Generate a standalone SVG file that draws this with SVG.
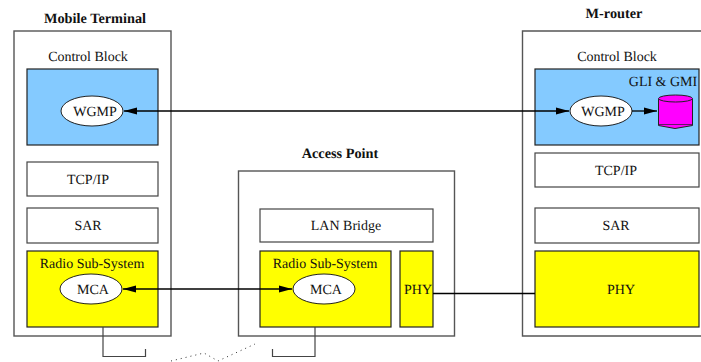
<svg xmlns="http://www.w3.org/2000/svg" width="701" height="362" viewBox="0 0 701 362">
<style>
text{font-family:"Liberation Serif","Times New Roman",serif;font-size:14px;fill:#111;text-anchor:middle;text-rendering:geometricPrecision}
.t{font-weight:bold;font-size:14.300px}
.o{fill:#fff;stroke:#555;stroke-width:1.4}
.w{fill:#fff;stroke:#444;stroke-width:1.2}
.b{fill:#84caff;stroke:#222;stroke-width:1.2}
.y{fill:#ff0;stroke:#222;stroke-width:1.2}
.e{fill:#fff;stroke:#222;stroke-width:1}
.c{fill:none;stroke:#000;stroke-width:1.3}
.a{fill:none;stroke:#444;stroke-width:1.2}
</style>
<defs>
<marker id="h" markerUnits="userSpaceOnUse" markerWidth="14" markerHeight="8" refX="13" refY="4" orient="auto-start-reverse"><path d="M0 .5L13 4L0 7.500z" fill="#000"/></marker>
</defs>
<g id="mobile-terminal">
<text class="t" x="95" y="23">Mobile Terminal</text>
<rect class="o" x="14" y="31" width="157" height="305"/>
<text x="88" y="61">Control Block</text>
<rect class="b" x="27" y="69" width="131" height="76"/>
<rect class="w" x="27" y="162" width="131" height="34"/>
<text x="88" y="184">TCP/IP</text>
<rect class="w" x="27" y="208" width="131" height="35"/>
<text x="88" y="230">SAR</text>
<rect class="y" x="27" y="251" width="131" height="76"/>
<text x="92" y="268">Radio Sub-System</text>
</g>
<g id="mt-wgmp"><ellipse class="e" cx="92" cy="111" rx="31" ry="15"/><text x="95" y="116">WGMP</text></g>
<g id="mt-mca"><ellipse class="e" cx="91" cy="289" rx="31" ry="15"/><text x="93" y="294">MCA</text></g>
<g id="access-point">
<text class="t" x="340" y="158">Access Point</text>
<rect class="o" x="238.500" y="171" width="216" height="165"/>
<rect class="w" x="260" y="209" width="173" height="33"/>
<text x="346" y="230">LAN Bridge</text>
<rect class="y" x="260" y="251" width="131" height="76"/>
<text x="325" y="268">Radio Sub-System</text>
<rect class="y" x="400" y="251" width="33" height="76"/>
<text x="418" y="294">PHY</text>
</g>
<g id="ap-mca"><ellipse class="e" cx="324" cy="289" rx="31" ry="15"/><text x="326" y="294">MCA</text></g>
<g id="m-router">
<text class="t" x="614" y="18">M-router</text>
<path class="o" d="M701 31H522.500V336H701"/>
<text x="617" y="61">Control Block</text>
<rect class="b" x="535" y="69" width="164" height="76"/>
<text x="663" y="86">GLI &amp; GMI</text>
<rect class="w" x="535" y="153" width="164" height="34"/>
<text x="616" y="175">TCP/IP</text>
<rect class="w" x="535" y="208" width="164" height="35"/>
<text x="616" y="230">SAR</text>
<rect class="y" x="535" y="251" width="164" height="76"/>
<text x="621" y="294">PHY</text>
</g>
<g id="mr-wgmp"><ellipse class="e" cx="601" cy="111" rx="31" ry="15"/><text x="603" y="116">WGMP</text></g>
<g id="mr-db">
<path d="M658.500 99V125.500L675 128.500L692.500 125.500V99z" fill="#f0f" stroke="#222"/>
<ellipse cx="675.500" cy="98.500" rx="17" ry="3.500" fill="#f0f" stroke="#222"/>
<path d="M658.500 124.500H692.500" fill="none" stroke="#222" stroke-width=".7"/>
</g>
<g id="connectors">
<path class="c" d="M124 111H569" marker-start="url(#h)" marker-end="url(#h)"/>
<path class="c" d="M632 111H657" marker-end="url(#h)"/>
<path class="c" d="M123 289H292" marker-start="url(#h)" marker-end="url(#h)"/>
<path class="c" d="M433 293.500H535"/>
<path class="a" d="M103 327V356.500H145.500V349"/>
<path class="a" d="M315 327V356.500H272.500V349"/>
<path d="M171 361L204 353L218 361L255 344" fill="none" stroke="#333" stroke-width="1" stroke-dasharray="1 4"/>
</g>
</svg>
